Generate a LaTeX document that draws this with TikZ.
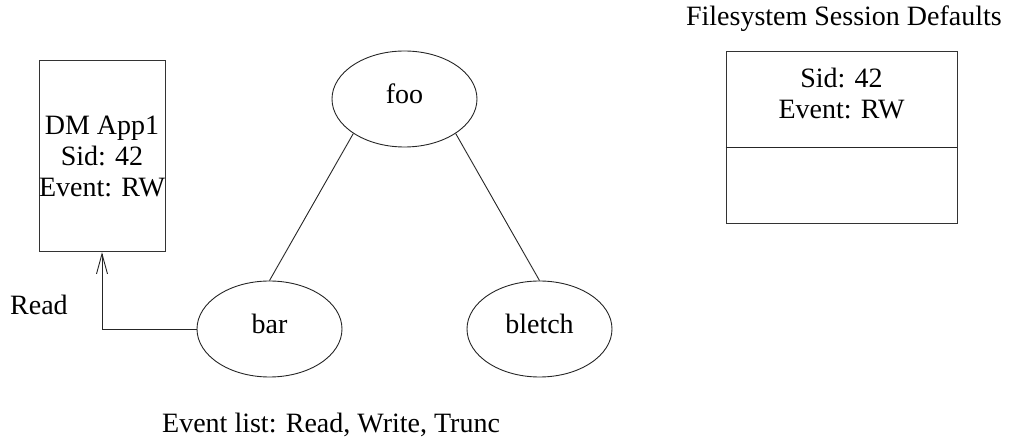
\documentclass[tikz,border=0pt]{standalone}
\usepackage{fontspec}
\setmainfont{Liberation Serif}
\usetikzlibrary{shapes.geometric,arrows.meta}
\tikzset{
  every node/.style={font=\fontsize{28}{31}\selectfont, inner sep=0pt, text=black},
  lnk/.style={draw=black!85, line width=0.9pt},
  oval/.style={ellipse, draw=black!85, line width=0.9pt, minimum width=145pt, minimum height=96pt, text height=10pt, text depth=0pt},
  boxnode/.style={rectangle, draw=black!80, line width=0.9pt, align=center},
  lbl/.style={anchor=base west},
}
\begin{document}
\begin{tikzpicture}[x=1pt,y=-1pt]
\useasboundingbox (0,0) rectangle (1010,438);
% left box
\node[boxnode, minimum width=124pt, minimum height=191.5pt] (dm) at (102,156) {DM App1\\Sid: 42\\Event: RW};
% ellipses
\node[oval] (foo) at (404.5,99) {foo};
\node[oval] (bar) at (269.5,329) {bar};
\node[oval] (bletch) at (539.5,329) {bletch};
\draw[lnk] (foo.214) -- (bar.north);
\draw[lnk] (foo.326) -- (bletch.north);
\draw[lnk, -{Straight Barb[length=20pt,width=11pt,line width=0.9pt]}] (bar.west) -| (dm.south);
\node[lbl] (read) at (10,315) {Read};
\node[lbl] (evlist) at (162,432) {Event list: Read, Write, Trunc};
% right box
\node[anchor=base east] (title) at (1002,26) {Filesystem Session Defaults};
\node[boxnode, minimum width=231pt, minimum height=172pt] (fsbox) at (841.5,137) {};
\coordinate (div) at (841.5,147);
\draw[lnk] (fsbox.west |- div) -- (fsbox.east |- div);
\node[align=center] (fstext) at (841.5,94) {Sid: 42\\Event: RW};
\end{tikzpicture}
\end{document}
